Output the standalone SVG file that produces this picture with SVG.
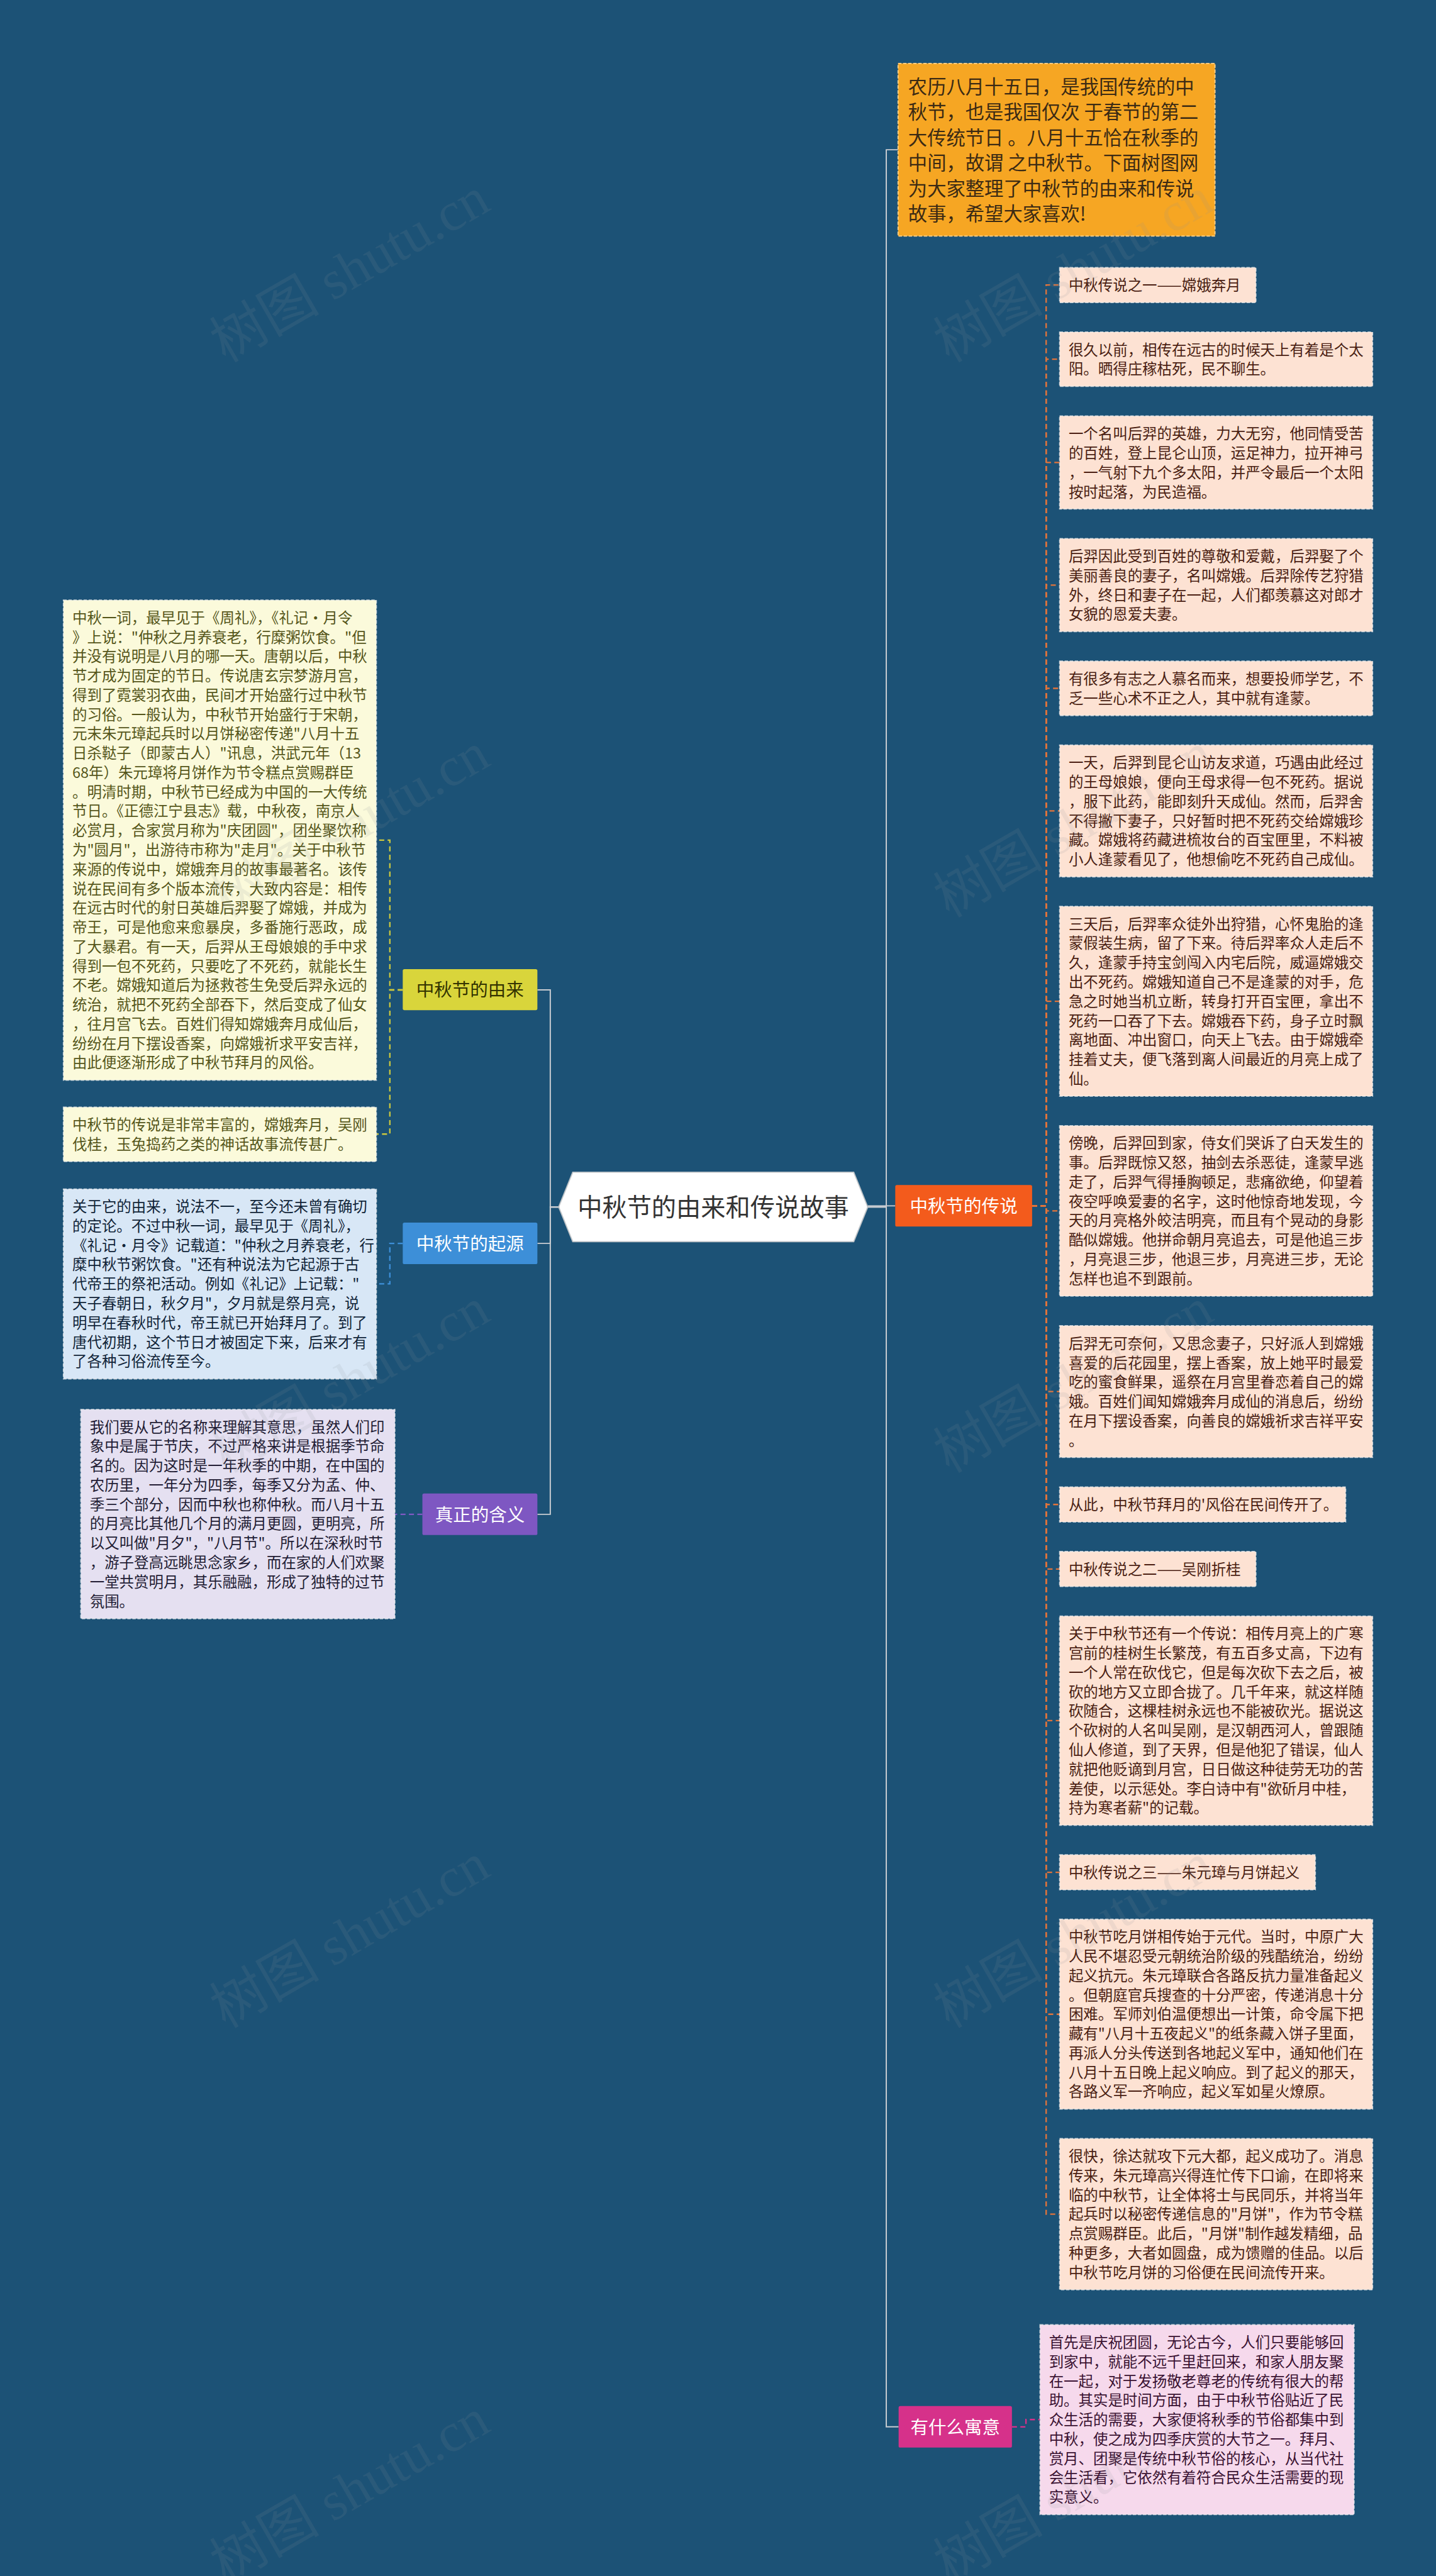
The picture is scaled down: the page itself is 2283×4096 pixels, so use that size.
<svg xmlns="http://www.w3.org/2000/svg" width="2283" height="4096" viewBox="0 0 2283 4096">
<style>
.t{font-family:"Noto Sans CJK SC","Noto Sans",sans-serif;font-size:26.3px}
.rb{fill:#fde2d3;stroke:#f4f4f4;stroke-opacity:0.7;stroke-width:2;stroke-dasharray:6 3}
.rt{fill:#4a1e12}
.yb{fill:#fbfadb;stroke:#f4f4f4;stroke-opacity:0.7;stroke-width:2;stroke-dasharray:6 3}
.yt{fill:#55561a}
.bb{fill:#d8e7f6;stroke:#f4f4f4;stroke-opacity:0.7;stroke-width:2;stroke-dasharray:6 3}
.bt{fill:#102438}
.pb{fill:#e5e0f1;stroke:#f4f4f4;stroke-opacity:0.7;stroke-width:2;stroke-dasharray:6 3}
.pt{fill:#221c34}
.mb{fill:#f6d9ec;stroke:#f4f4f4;stroke-opacity:0.7;stroke-width:2;stroke-dasharray:6 3}
.mt{fill:#3a1232}
.nt{font-family:"Noto Sans CJK SC","Noto Sans",sans-serif;font-size:32px;text-anchor:middle}
.c{fill:none;stroke-width:2.6;stroke-dasharray:9 6}
.g{fill:none;stroke:#c9cdd2;stroke-width:2.2}
.wm{font-family:"Liberation Serif","Noto Sans CJK SC",serif;font-size:98px;fill:#8a939b;fill-opacity:0.13;text-anchor:middle}
</style>
<rect x="0" y="0" width="2283" height="4096" fill="#1c5276"/>
<g transform="scale(0.8918)">
<g id="connectors">
<path class="g" d="M996 2152 H981 V1765 H958"/>
<path class="g" d="M996 2152 H981 V2217 H958"/>
<path class="g" d="M996 2152 H981 V2700 H958"/>
<path class="g" d="M1547 2150 H1596"/>
<path class="g" d="M1547 2152 H1580 V4327 H1602"/>
<path class="g" d="M1547 2152 H1580 V267 H1601"/>
<g stroke="#cbc83e">
<path class="c" d="M718 1765 H695 V1498 H671"/>
<path class="c" d="M718 1765 H695 V2022 H671"/>
</g>
<path class="c" stroke="#3d8fd8" d="M718 2217 H695 V2289 H671"/>
<path class="c" stroke="#8059c4" d="M753 2700 H704"/>
<path class="c" stroke="#d6318a" d="M1804 4327 H1829 V4314 H1854"/>
<g stroke="#e2743b">
<path class="c" d="M1840 2150 H1865 V508 H1889"/>
<path class="c" d="M1840 2150 H1865 V640.5 H1889"/>
<path class="c" d="M1840 2150 H1865 V824.6 H1889"/>
<path class="c" d="M1840 2150 H1865 V1043.2 H1889"/>
<path class="c" d="M1840 2150 H1865 V1227.3 H1889"/>
<path class="c" d="M1840 2150 H1865 V1445.9 H1889"/>
<path class="c" d="M1840 2150 H1865 V1785.3 H1889"/>
<path class="c" d="M1840 2150 H1865 V2159 H1889"/>
<path class="c" d="M1840 2150 H1865 V2481.1 H1889"/>
<path class="c" d="M1840 2150 H1865 V2682.5 H1889"/>
<path class="c" d="M1840 2150 H1865 V2797.6 H1889"/>
<path class="c" d="M1840 2150 H1865 V3067.9 H1889"/>
<path class="c" d="M1840 2150 H1865 V3338.3 H1889"/>
<path class="c" d="M1840 2150 H1865 V3591.3 H1889"/>
<path class="c" d="M1840 2150 H1865 V3947.8 H1889"/>
</g>
</g>

<g id="main">
<polygon points="996,2152 1021,2090 1522,2090 1547,2152 1522,2214 1021,2214" fill="#ffffff" stroke="#bfc4c8" stroke-width="2"/>
<text x="1271.5" y="2169" font-family="Noto Sans CJK SC, sans-serif" font-size="44" fill="#333333" text-anchor="middle">中秋节的由来和传说故事</text>
</g>

<g id="intro">
<rect x="1601" y="113" width="565" height="308" fill="#f6a623" stroke="#fbd08a" stroke-width="2" stroke-dasharray="6 3"/>
<text font-family="Noto Sans CJK SC, sans-serif" font-size="34" fill="#3b2a14"><tspan x="1619" y="166.7">农历八月十五日，是我国传统的中</tspan><tspan x="1619" dy="45.4">秋节，也是我国仅次 于春节的第二</tspan><tspan x="1619" dy="45.4">大传统节日 。八月十五恰在秋季的</tspan><tspan x="1619" dy="45.4">中间，故谓 之中秋节。下面树图网</tspan><tspan x="1619" dy="45.4">为大家整理了中秋节的由来和传说</tspan><tspan x="1619" dy="45.4">故事，希望大家喜欢!</tspan></text>
</g>

<g id="n-youlai">
<rect x="718" y="1728" width="240" height="73" rx="3" fill="#d9d53b"/>
<text class="nt" x="838" y="1776.5" fill="#333300">中秋节的由来</text>
</g>
<g id="n-qiyuan">
<rect x="718" y="2180" width="240" height="74" rx="3" fill="#3d8fd8"/>
<text class="nt" x="838" y="2229" fill="#ffffff">中秋节的起源</text>
</g>
<g id="n-hanyi">
<rect x="753" y="2663" width="205" height="74" rx="3" fill="#7e57c2"/>
<text class="nt" x="855.5" y="2712" fill="#ffffff">真正的含义</text>
</g>
<g id="n-chuanshuo">
<rect x="1596" y="2113" width="244" height="74" rx="3" fill="#f35b1c"/>
<text class="nt" x="1718" y="2162" fill="#ffffff">中秋节的传说</text>
</g>
<g id="n-yuyi">
<rect x="1602" y="4290" width="202" height="74" rx="3" fill="#d6318a"/>
<text class="nt" x="1703" y="4339" fill="#ffffff">有什么寓意</text>
</g>

<g id="l-1">
<rect class="yb" x="113" y="1070" width="558" height="856"/>
<text class="t yt"><tspan x="129" y="1111">中秋一词，最早见于《周礼》，《礼记·月令</tspan><tspan x="129" dy="34.5">》上说："仲秋之月养衰老，行糜粥饮食。"但</tspan><tspan x="129" dy="34.5">并没有说明是八月的哪一天。唐朝以后，中秋</tspan><tspan x="129" dy="34.5">节才成为固定的节日。传说唐玄宗梦游月宫，</tspan><tspan x="129" dy="34.5">得到了霓裳羽衣曲，民间才开始盛行过中秋节</tspan><tspan x="129" dy="34.5">的习俗。一般认为，中秋节开始盛行于宋朝，</tspan><tspan x="129" dy="34.5">元末朱元璋起兵时以月饼秘密传递"八月十五</tspan><tspan x="129" dy="34.5">日杀鞑子（即蒙古人）"讯息，洪武元年（13</tspan><tspan x="129" dy="34.5">68年）朱元璋将月饼作为节令糕点赏赐群臣</tspan><tspan x="129" dy="34.5">。明清时期，中秋节已经成为中国的一大传统</tspan><tspan x="129" dy="34.5">节日。《正德江宁县志》载，中秋夜，南京人</tspan><tspan x="129" dy="34.5">必赏月，合家赏月称为"庆团圆"，团坐聚饮称</tspan><tspan x="129" dy="34.5">为"圆月"，出游待市称为"走月"。关于中秋节</tspan><tspan x="129" dy="34.5">来源的传说中，嫦娥奔月的故事最著名。该传</tspan><tspan x="129" dy="34.5">说在民间有多个版本流传，大致内容是：相传</tspan><tspan x="129" dy="34.5">在远古时代的射日英雄后羿娶了嫦娥，并成为</tspan><tspan x="129" dy="34.5">帝王，可是他愈来愈暴戾，多番施行恶政，成</tspan><tspan x="129" dy="34.5">了大暴君。有一天，后羿从王母娘娘的手中求</tspan><tspan x="129" dy="34.5">得到一包不死药，只要吃了不死药，就能长生</tspan><tspan x="129" dy="34.5">不老。嫦娥知道后为拯救苍生免受后羿永远的</tspan><tspan x="129" dy="34.5">统治，就把不死药全部吞下，然后变成了仙女</tspan><tspan x="129" dy="34.5">，往月宫飞去。百姓们得知嫦娥奔月成仙后，</tspan><tspan x="129" dy="34.5">纷纷在月下摆设香案，向嫦娥祈求平安吉祥，</tspan><tspan x="129" dy="34.5">由此便逐渐形成了中秋节拜月的风俗。</tspan></text>
</g>
<g id="l-2">
<rect class="yb" x="113" y="1974" width="558" height="97"/>
<text class="t yt"><tspan x="129" y="2015">中秋节的传说是非常丰富的，嫦娥奔月，吴刚</tspan><tspan x="129" dy="34.5">伐桂，玉兔捣药之类的神话故事流传甚广。</tspan></text>
</g>
<g id="l-3">
<rect class="bb" x="113" y="2120" width="558" height="338.5"/>
<text class="t bt"><tspan x="129" y="2161">关于它的由来，说法不一，至今还未曾有确切</tspan><tspan x="129" dy="34.5">的定论。不过中秋一词，最早见于《周礼》，</tspan><tspan x="129" dy="34.5">《礼记·月令》记载道："仲秋之月养衰老，行</tspan><tspan x="129" dy="34.5">糜中秋节粥饮食。"还有种说法为它起源于古</tspan><tspan x="129" dy="34.5">代帝王的祭祀活动。例如《礼记》上记载："</tspan><tspan x="129" dy="34.5">天子春朝日，秋夕月"，夕月就是祭月亮，说</tspan><tspan x="129" dy="34.5">明早在春秋时代，帝王就已开始拜月了。到了</tspan><tspan x="129" dy="34.5">唐代初期，这个节日才被固定下来，后来才有</tspan><tspan x="129" dy="34.5">了各种习俗流传至今。</tspan></text>
</g>
<g id="l-4">
<rect class="pb" x="144" y="2513" width="560" height="373"/>
<text class="t pt"><tspan x="160" y="2554">我们要从它的名称来理解其意思，虽然人们印</tspan><tspan x="160" dy="34.5">象中是属于节庆，不过严格来讲是根据季节命</tspan><tspan x="160" dy="34.5">名的。因为这时是一年秋季的中期，在中国的</tspan><tspan x="160" dy="34.5">农历里，一年分为四季，每季又分为孟、仲、</tspan><tspan x="160" dy="34.5">季三个部分，因而中秋也称仲秋。而八月十五</tspan><tspan x="160" dy="34.5">的月亮比其他几个月的满月更圆，更明亮，所</tspan><tspan x="160" dy="34.5">以又叫做"月夕"，"八月节"。所以在深秋时节</tspan><tspan x="160" dy="34.5">，游子登高远眺思念家乡，而在家的人们欢聚</tspan><tspan x="160" dy="34.5">一堂共赏明月，其乐融融，形成了独特的过节</tspan><tspan x="160" dy="34.5">氛围。</tspan></text>
</g>

<g id="r-1">
<rect class="rb" x="1889" y="477" width="350" height="62.5"/>
<text class="t rt"><tspan x="1905" y="518">中秋传说之一——嫦娥奔月</tspan></text>
</g>
<g id="r-2">
<rect class="rb" x="1889" y="592" width="558" height="97"/>
<text class="t rt"><tspan x="1905" y="633">很久以前，相传在远古的时候天上有着是个太</tspan><tspan x="1905" dy="34.5">阳。晒得庄稼枯死，民不聊生。</tspan></text>
</g>
<g id="r-3">
<rect class="rb" x="1889" y="741.6" width="558" height="166"/>
<text class="t rt"><tspan x="1905" y="783">一个名叫后羿的英雄，力大无穷，他同情受苦</tspan><tspan x="1905" dy="34.5">的百姓，登上昆仑山顶，运足神力，拉开神弓</tspan><tspan x="1905" dy="34.5">，一气射下九个多太阳，并严令最后一个太阳</tspan><tspan x="1905" dy="34.5">按时起落，为民造福。</tspan></text>
</g>
<g id="r-4">
<rect class="rb" x="1889" y="960.2" width="558" height="166"/>
<text class="t rt"><tspan x="1905" y="1001.5">后羿因此受到百姓的尊敬和爱戴，后羿娶了个</tspan><tspan x="1905" dy="34.5">美丽善良的妻子，名叫嫦娥。后羿除传艺狩猎</tspan><tspan x="1905" dy="34.5">外，终日和妻子在一起，人们都羡慕这对郎才</tspan><tspan x="1905" dy="34.5">女貌的恩爱夫妻。</tspan></text>
</g>
<g id="r-5">
<rect class="rb" x="1889" y="1178.8" width="558" height="97"/>
<text class="t rt"><tspan x="1905" y="1220">有很多有志之人慕名而来，想要投师学艺，不</tspan><tspan x="1905" dy="34.5">乏一些心术不正之人，其中就有逢蒙。</tspan></text>
</g>
<g id="r-6">
<rect class="rb" x="1889" y="1328.4" width="558" height="235"/>
<text class="t rt"><tspan x="1905" y="1369.6">一天，后羿到昆仑山访友求道，巧遇由此经过</tspan><tspan x="1905" dy="34.5">的王母娘娘，便向王母求得一包不死药。据说</tspan><tspan x="1905" dy="34.5">，服下此药，能即刻升天成仙。然而，后羿舍</tspan><tspan x="1905" dy="34.5">不得撇下妻子，只好暂时把不死药交给嫦娥珍</tspan><tspan x="1905" dy="34.5">藏。嫦娥将药藏进梳妆台的百宝匣里，不料被</tspan><tspan x="1905" dy="34.5">小人逢蒙看见了，他想偷吃不死药自己成仙。</tspan></text>
</g>
<g id="r-7">
<rect class="rb" x="1889" y="1616" width="558" height="338.5"/>
<text class="t rt"><tspan x="1905" y="1657">三天后，后羿率众徒外出狩猎，心怀鬼胎的逢</tspan><tspan x="1905" dy="34.5">蒙假装生病，留了下来。待后羿率众人走后不</tspan><tspan x="1905" dy="34.5">久，逢蒙手持宝剑闯入内宅后院，威逼嫦娥交</tspan><tspan x="1905" dy="34.5">出不死药。嫦娥知道自己不是逢蒙的对手，危</tspan><tspan x="1905" dy="34.5">急之时她当机立断，转身打开百宝匣，拿出不</tspan><tspan x="1905" dy="34.5">死药一口吞了下去。嫦娥吞下药，身子立时飘</tspan><tspan x="1905" dy="34.5">离地面、冲出窗口，向天上飞去。由于嫦娥牵</tspan><tspan x="1905" dy="34.5">挂着丈夫，便飞落到离人间最近的月亮上成了</tspan><tspan x="1905" dy="34.5">仙。</tspan></text>
</g>
<g id="r-8">
<rect class="rb" x="1889" y="2007" width="558" height="304"/>
<text class="t rt"><tspan x="1905" y="2048">傍晚，后羿回到家，侍女们哭诉了白天发生的</tspan><tspan x="1905" dy="34.5">事。后羿既惊又怒，抽剑去杀恶徒，逢蒙早逃</tspan><tspan x="1905" dy="34.5">走了，后羿气得捶胸顿足，悲痛欲绝，仰望着</tspan><tspan x="1905" dy="34.5">夜空呼唤爱妻的名字，这时他惊奇地发现，今</tspan><tspan x="1905" dy="34.5">天的月亮格外皎洁明亮，而且有个晃动的身影</tspan><tspan x="1905" dy="34.5">酷似嫦娥。他拼命朝月亮追去，可是他追三步</tspan><tspan x="1905" dy="34.5">，月亮退三步，他退三步，月亮进三步，无论</tspan><tspan x="1905" dy="34.5">怎样也追不到跟前。</tspan></text>
</g>
<g id="r-9">
<rect class="rb" x="1889" y="2363.6" width="558" height="235"/>
<text class="t rt"><tspan x="1905" y="2405">后羿无可奈何，又思念妻子，只好派人到嫦娥</tspan><tspan x="1905" dy="34.5">喜爱的后花园里，摆上香案，放上她平时最爱</tspan><tspan x="1905" dy="34.5">吃的蜜食鲜果，遥祭在月宫里眷恋着自己的嫦</tspan><tspan x="1905" dy="34.5">娥。百姓们闻知嫦娥奔月成仙的消息后，纷纷</tspan><tspan x="1905" dy="34.5">在月下摆设香案，向善良的嫦娥祈求吉祥平安</tspan><tspan x="1905" dy="34.5">。</tspan></text>
</g>
<g id="r-10">
<rect class="rb" x="1889" y="2651.2" width="510" height="62.5"/>
<text class="t rt"><tspan x="1905" y="2692.5">从此，中秋节拜月的'风俗在民间传开了。</tspan></text>
</g>
<g id="r-11">
<rect class="rb" x="1889" y="2766.3" width="350" height="62.5"/>
<text class="t rt"><tspan x="1905" y="2807.5">中秋传说之二——吴刚折桂</tspan></text>
</g>
<g id="r-12">
<rect class="rb" x="1889" y="2881.4" width="558" height="373"/>
<text class="t rt"><tspan x="1905" y="2922.6">关于中秋节还有一个传说：相传月亮上的广寒</tspan><tspan x="1905" dy="34.5">宫前的桂树生长繁茂，有五百多丈高，下边有</tspan><tspan x="1905" dy="34.5">一个人常在砍伐它，但是每次砍下去之后，被</tspan><tspan x="1905" dy="34.5">砍的地方又立即合拢了。几千年来，就这样随</tspan><tspan x="1905" dy="34.5">砍随合，这棵桂树永远也不能被砍光。据说这</tspan><tspan x="1905" dy="34.5">个砍树的人名叫吴刚，是汉朝西河人，曾跟随</tspan><tspan x="1905" dy="34.5">仙人修道，到了天界，但是他犯了错误，仙人</tspan><tspan x="1905" dy="34.5">就把他贬谪到月宫，日日做这种徒劳无功的苦</tspan><tspan x="1905" dy="34.5">差使，以示惩处。李白诗中有"欲斫月中桂，</tspan><tspan x="1905" dy="34.5">持为寒者薪"的记载。</tspan></text>
</g>
<g id="r-13">
<rect class="rb" x="1889" y="3307" width="456" height="62.5"/>
<text class="t rt"><tspan x="1905" y="3348">中秋传说之三——朱元璋与月饼起义</tspan></text>
</g>
<g id="r-14">
<rect class="rb" x="1889" y="3422" width="558" height="338.5"/>
<text class="t rt"><tspan x="1905" y="3463">中秋节吃月饼相传始于元代。当时，中原广大</tspan><tspan x="1905" dy="34.5">人民不堪忍受元朝统治阶级的残酷统治，纷纷</tspan><tspan x="1905" dy="34.5">起义抗元。朱元璋联合各路反抗力量准备起义</tspan><tspan x="1905" dy="34.5">。但朝庭官兵搜查的十分严密，传递消息十分</tspan><tspan x="1905" dy="34.5">困难。军师刘伯温便想出一计策，命令属下把</tspan><tspan x="1905" dy="34.5">藏有"八月十五夜起义"的纸条藏入饼子里面，</tspan><tspan x="1905" dy="34.5">再派人分头传送到各地起义军中，通知他们在</tspan><tspan x="1905" dy="34.5">八月十五日晚上起义响应。到了起义的那天，</tspan><tspan x="1905" dy="34.5">各路义军一齐响应，起义军如星火燎原。</tspan></text>
</g>
<g id="r-15">
<rect class="rb" x="1889" y="3813" width="558" height="269.5"/>
<text class="t rt"><tspan x="1905" y="3854">很快，徐达就攻下元大都，起义成功了。消息</tspan><tspan x="1905" dy="34.5">传来，朱元璋高兴得连忙传下口谕，在即将来</tspan><tspan x="1905" dy="34.5">临的中秋节，让全体将士与民同乐，并将当年</tspan><tspan x="1905" dy="34.5">起兵时以秘密传递信息的"月饼"，作为节令糕</tspan><tspan x="1905" dy="34.5">点赏赐群臣。此后，"月饼"制作越发精细，品</tspan><tspan x="1905" dy="34.5">种更多，大者如圆盘，成为馈赠的佳品。以后</tspan><tspan x="1905" dy="34.5">中秋节吃月饼的习俗便在民间流传开来。</tspan></text>
</g>
<g id="y-1">
<rect class="mb" x="1854" y="4145" width="560" height="338.5"/>
<text class="t mt"><tspan x="1870" y="4186">首先是庆祝团圆，无论古今，人们只要能够回</tspan><tspan x="1870" dy="34.5">到家中，就能不远千里赶回来，和家人朋友聚</tspan><tspan x="1870" dy="34.5">在一起，对于发扬敬老尊老的传统有很大的帮</tspan><tspan x="1870" dy="34.5">助。其实是时间方面，由于中秋节俗贴近了民</tspan><tspan x="1870" dy="34.5">众生活的需要，大家便将秋季的节俗都集中到</tspan><tspan x="1870" dy="34.5">中秋，使之成为四季庆赏的大节之一。拜月、</tspan><tspan x="1870" dy="34.5">赏月、团聚是传统中秋节俗的核心，从当代社</tspan><tspan x="1870" dy="34.5">会生活看，它依然有着符合民众生活需要的现</tspan><tspan x="1870" dy="34.5">实意义。</tspan></text>
</g>

<g id="watermark">
<text class="wm" transform="translate(640,510) rotate(-30)">树图 shutu.cn</text>
<text class="wm" transform="translate(1930,510) rotate(-30)">树图 shutu.cn</text>
<text class="wm" transform="translate(640,1500) rotate(-30)">树图 shutu.cn</text>
<text class="wm" transform="translate(1930,1500) rotate(-30)">树图 shutu.cn</text>
<text class="wm" transform="translate(640,2490) rotate(-30)">树图 shutu.cn</text>
<text class="wm" transform="translate(1930,2490) rotate(-30)">树图 shutu.cn</text>
<text class="wm" transform="translate(640,3480) rotate(-30)">树图 shutu.cn</text>
<text class="wm" transform="translate(1930,3480) rotate(-30)">树图 shutu.cn</text>
<text class="wm" transform="translate(640,4470) rotate(-30)">树图 shutu.cn</text>
<text class="wm" transform="translate(1930,4470) rotate(-30)">树图 shutu.cn</text>
</g>
</g>
</svg>
